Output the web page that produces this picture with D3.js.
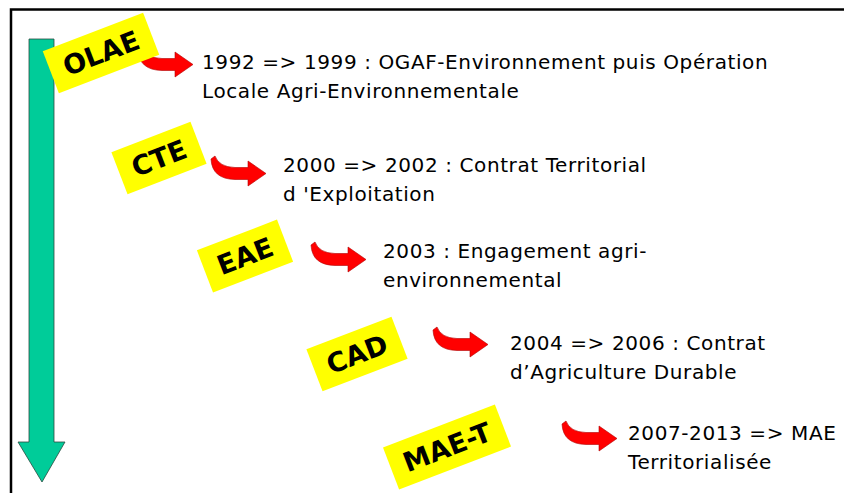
<!DOCTYPE html>
<html>
<head>
<meta charset="utf-8">
<script src="https://cdn.jsdelivr.net/npm/d3@7"></script>
<style>
  body { margin: 0; background: #fff; }
  svg { display: block; }
</style>
</head>
<body>
<div id="container"></div>
<script>
// stages of the agri-environmental measures, top to bottom
var labels = ["OLAE", "CTE", "EAE", "CAD", "MAE-T"];
var line1 = [
    "1992 => 1999 : OGAF-Environnement puis Opération",
    "2000 => 2002 : Contrat Territorial",
    "2003 : Engagement agri-",
    "2004 => 2006 : Contrat",
    "2007-2013 => MAE"
];
var line2 = [
    "Locale Agri-Environnementale",
    "d 'Exploitation",
    "environnemental",
    "d\u2019Agriculture Durable",
    "Territorialisée"
];

var width = 844, height = 493;

var svg = d3.select("div#container")
    .append("svg")
    .attr("width", width)
    .attr("height", height);

// layout scales (one slot per stage)
var boxX = d3.scaleOrdinal().domain(labels).range([101, 159, 245, 357, 447]);
var boxY = d3.scaleOrdinal().domain(labels).range([53, 158, 256, 354, 447]);
var arrowX = d3.scaleOrdinal().domain(labels).range([138, 211, 311, 433, 562]);
var arrowY = d3.scaleOrdinal().domain(labels).range([47, 156, 242, 327, 421]);
var textX = d3.scaleOrdinal().domain(labels).range([202, 283, 383, 510, 628]);
var textY = d3.scaleOrdinal().domain(labels).range([69, 172, 258, 350, 440]);

// frame
svg.append("path")
    .attr("d", "M11,493 L11,9.5 L844,9.5")
    .attr("fill", "none")
    .attr("stroke", "#000")
    .attr("stroke-width", 2.5);

// big green time arrow
svg.append("path")
    .attr("d", "M29,39 L54,39 L54,442 L65,442 L42,482 L18,442 L29,442 Z")
    .attr("fill", "#00CC99")
    .attr("stroke", "#2b4a40")
    .attr("stroke-width", 0.8);

var stage = svg.selectAll("g.stage")
    .data(labels)
    .enter()
    .append("g")
    .attr("class", "stage");

// curved red arrows
stage.append("path")
    .attr("transform", function (d) { return "translate(" + arrowX(d) + "," + arrowY(d) + ")"; })
    .attr("d", "M0,3 L4,0 Q8,11 24,11.5 L37,11.5 L37,5 L55,17.5 L37,30 L37,23.5 L24,23.5 Q1,23 0,3 Z")
    .attr("fill", "#FF0000")
    .attr("stroke", "#b00000")
    .attr("stroke-width", 0.6);

// yellow tilted labels
var tag = stage.append("g")
    .attr("transform", function (d) { return "translate(" + boxX(d) + "," + boxY(d) + ") rotate(-21)"; });

var rect = tag.append("rect").attr("fill", "#FFFF00");

tag.append("text")
    .attr("text-anchor", "middle")
    .attr("dy", "0.36em")
    .style("font-family", "'Comic Sans MS', 'DejaVu Sans', sans-serif")
    .style("font-weight", "bold")
    .style("font-size", "27px")
    .text(function (d) { return d; });

tag.each(function () {
    var t = d3.select(this).select("text").node().getComputedTextLength();
    d3.select(this).select("rect")
        .attr("x", -(t + 28) / 2)
        .attr("y", -22.5)
        .attr("width", t + 28)
        .attr("height", 45);
});

// description texts
var desc = stage.append("text")
    .style("font-family", "'Comic Sans MS', 'DejaVu Sans', sans-serif")
    .style("font-size", "20px")
    .style("letter-spacing", "0.6px")
    .attr("fill", "#000");

desc.append("tspan")
    .attr("x", function (d) { return textX(d); })
    .attr("y", function (d) { return textY(d); })
    .text(function (d, i) { return line1[i]; });

desc.append("tspan")
    .attr("x", function (d) { return textX(d); })
    .attr("y", function (d) { return textY(d) + 28.5; })
    .text(function (d, i) { return line2[i]; });
</script>
</body>
</html>
